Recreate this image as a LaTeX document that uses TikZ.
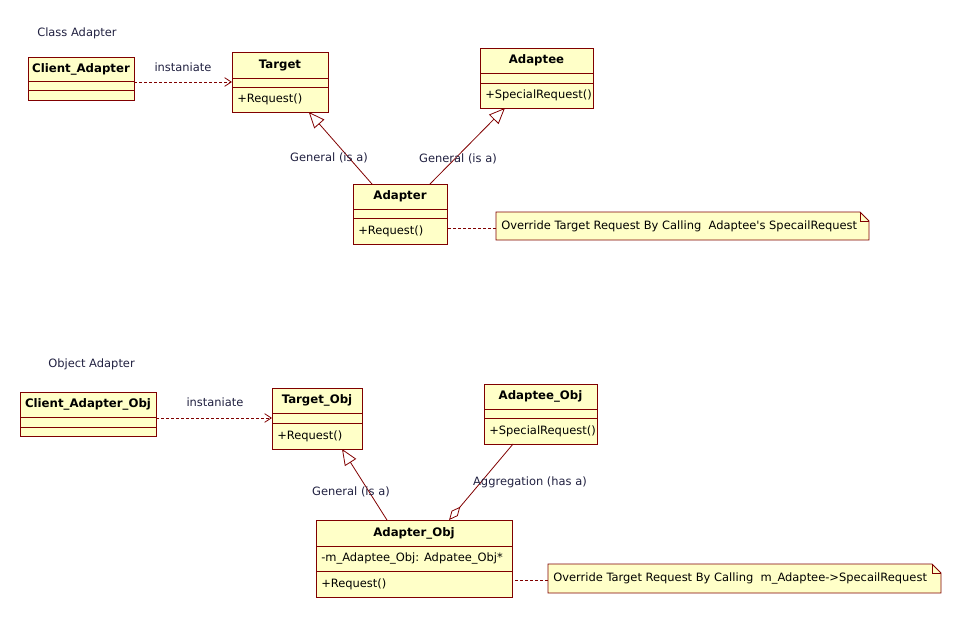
\documentclass[tikz,border=0pt]{standalone}
\usepackage{fontspec}
\setmainfont{DejaVu Sans}[Ligatures=TeXOff]
\usetikzlibrary{arrows.meta,calc}
\definecolor{umlfill}{RGB}{255,255,200}
\definecolor{umlborder}{RGB}{128,0,0}
\definecolor{labelcol}{RGB}{32,32,64}
\newcommand\umlclass[9]{%
  \node[classbox, minimum width={(#4-#2)*0.75pt}, minimum height={(#5-#3)*0.75pt}] (#1) at ({(#2+#4)/2},{(#3+#5)/2}) {};
  \draw[umlline] (#2,#6) -- (#4,#6) (#2,#7) -- (#4,#7);
  \node[titletext] (#1-title) at ({(#2+#4)/2},{(#3+#6)/2}) {#8};
  \if\relax\detokenize{#9}\relax\else
  \node[optext] (#1-ops) at ({#2+5},{(#7+#5)/2}) {#9};
  \fi
}
\newcommand\umlnote[6]{% name x1 y1 x2 y2 text
  \node[inner sep=0pt, outer sep=0pt, minimum width={(#4-#2)*0.75pt}, minimum height={(#5-#3)*0.75pt}] (#1) at ({(#2+#4)/2},{(#3+#5)/2}) {};
  \draw[umlline, fill=umlfill] (#2,#3) -- ({#4-9},#3) -- (#4,{#3+9}) -- (#4,#5) -- (#2,#5) -- cycle;
  \draw[umlline] ({#4-9},#3) -- ({#4-9},{#3+9}) -- (#4,{#3+9});
  \node[optext, anchor=west] (#1-text) at ({#2+5},{(#3+#5)/2}) {#6};
}
\begin{document}
\begin{tikzpicture}[x=0.75pt, y=-0.75pt,
  umlline/.style={draw=umlborder, line width=0.6pt},
  classbox/.style={umlline, fill=umlfill, inner sep=0pt, outer sep=0pt},
  titletext/.style={font=\fontsize{8.8}{10}\selectfont\bfseries, inner sep=0pt, text=black},
  optext/.style={font=\fontsize{8.6}{10}\selectfont, inner sep=0pt, anchor=west, text=black},
  lbl/.style={font=\fontsize{8.6}{10}\selectfont, inner sep=0pt, text=labelcol},
  dashline/.style={umlline, dash pattern=on 2.25pt off 1.5pt},
  dep/.style={dashline, -{Straight Barb[length=5pt,width=6.5pt]}},
  gen/.style={umlline, -{Triangle[open,length=12pt,width=10pt]}},
  agg/.style={umlline, {Diamond[open,length=13pt,width=6pt]}-}
]
\useasboundingbox (0,0) rectangle (961,617);

% ---------- Class Adapter ----------
\node[lbl, anchor=west] (title1) at (37,33) {Class Adapter};
\umlclass{client}{28}{57}{134}{100}{81}{90}{Client\_Adapter}{}
\umlclass{target}{232}{52}{328}{112}{78}{87}{Target}{+Request()}
\umlclass{adaptee}{480}{48}{593}{108}{73}{83}{Adaptee}{+SpecialRequest()}
\umlclass{adapter}{353}{184}{447}{244}{209}{218}{Adapter}{+Request()}
\umlnote{note1}{496}{212}{869}{240}{Override Target Request By Calling\ \ Adaptee's SpecailRequest}

\draw[dep] (client.east |- 0,82) -- (target.west |- 0,82);
\node[lbl] (inst1) at (183,67) {instaniate};
\draw[gen] ($(adapter.north west)!0.202!(adapter.north east)$) -- ($(target.south west)!0.80!(target.south east)$);
\draw[gen] ($(adapter.north west)!0.819!(adapter.north east)$) -- ($(adaptee.south west)!0.221!(adaptee.south east)$);
\node[lbl] (gen1) at (329,158) {General (is a)};
\node[lbl] (gen2) at (458,159) {General (is a)};
\draw[dashline] (note1.west |- 0,228) -- (adapter.east |- 0,228);

% ---------- Object Adapter ----------
\node[lbl, anchor=west] (title2) at (48,364) {Object Adapter};
\umlclass{clientobj}{20}{392}{156}{436}{417}{427}{Client\_Adapter\_Obj}{}
\umlclass{targetobj}{272}{388}{362}{449}{413}{423}{Target\_Obj}{+Request()}
\umlclass{adapteeobj}{484}{384}{597}{444}{409}{418}{Adaptee\_Obj}{+SpecialRequest()}
\umlclass{adapterobj}{316}{520}{512}{597}{546}{571}{Adapter\_Obj}{+Request()}
\node[optext] (adapterobj-attr) at (321,558.5) {-m\_Adaptee\_Obj: Adpatee\_Obj*};
\umlnote{note2}{548}{564}{941}{593}{Override Target Request By Calling\ \ m\_Adaptee->SpecailRequest}

\draw[dep] (clientobj.east |- 0,418) -- (targetobj.west |- 0,418);
\node[lbl] (inst2) at (215,402) {instaniate};
\draw[gen] ($(adapterobj.north west)!0.362!(adapterobj.north east)$) -- ($(targetobj.south west)!0.778!(targetobj.south east)$);
\draw[agg] ($(adapterobj.north west)!0.679!(adapterobj.north east)$) -- ($(adapteeobj.south west)!0.257!(adapteeobj.south east)$);
\node[lbl] (gen3) at (351,492) {General (is a)};
\node[lbl] (aggl) at (530,482) {Aggregation (has a)};
\draw[dashline] (note2.west |- 0,580) -- (adapterobj.east |- 0,580);
\end{tikzpicture}
\end{document}
